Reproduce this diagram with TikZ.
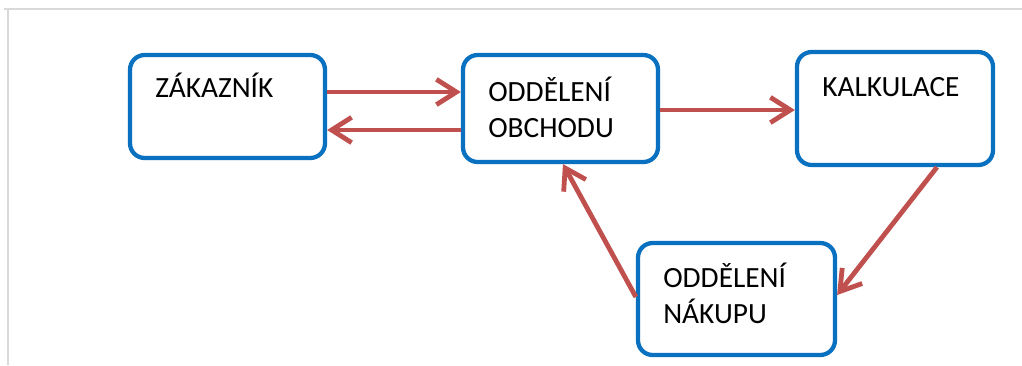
\documentclass[tikz,border=0pt]{standalone}
\usepackage{fontspec}
\setmainfont{Carlito}
\usetikzlibrary{arrows.meta}
\definecolor{boxblue}{HTML}{0A70C0}
\definecolor{arrred}{HTML}{C0504D}
\begin{document}
\begin{tikzpicture}[x=0.75pt,y=-0.75pt,
  boxst/.style={draw=boxblue,line width=3.2pt,rounded corners=11pt,fill=white,inner sep=0pt},
  lbl/.style={anchor=base west,inner sep=0pt,font=\fontsize{22}{27}\selectfont,align=left},
  conn/.style={draw=arrred,line width=3.6pt,-{Straight Barb[length=15pt,width=19pt]}},
  frame/.style={draw=black!15,line width=1.5pt}]
\useasboundingbox (0,0) rectangle (1022,365);
\draw[frame] (4,9) -- (1022,9);
\draw[frame] (8,9) -- (8,365);
\node[boxst,minimum width=195*0.75pt,minimum height=103*0.75pt] (z) at (227.5,106.5) {};
\node[boxst,minimum width=195*0.75pt,minimum height=107*0.75pt] (o) at (560.5,108.5) {};
\node[boxst,minimum width=196*0.75pt,minimum height=113*0.75pt] (k) at (895,108.5) {};
\node[boxst,minimum width=197*0.75pt,minimum height=112*0.75pt] (n) at (736.5,299) {};
\node[lbl] (tz) at (155,97) {ZÁKAZNÍK};
\node[lbl] (to) at (488,137) {ODDĚLENÍ\\OBCHODU};
\node[lbl] (tk) at (822,96) {KALKULACE};
\node[lbl] (tn) at (663,323) {ODDĚLENÍ\\NÁKUPU};
\draw[conn] (z.east |- 0,92) -- (o.west |- 0,92);
\draw[conn] (o.west |- 0,130) -- (z.east |- 0,130);
\draw[conn] (o.east |- 0,110) -- (k.west |- 0,110);
\draw[conn] (k.south -| 937,0) -- (n.east |- 0,295);
\draw[conn] (n.west |- 0,297) -- (o.south -| 563,0);
\end{tikzpicture}
\end{document}
